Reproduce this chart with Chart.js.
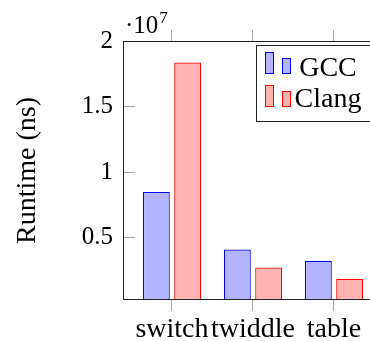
<!DOCTYPE html>
<html lang="en">
<head>
    <meta charset="UTF-8">
    <title>Runtime</title>
    <script src="https://cdn.jsdelivr.net/npm/chart.js"></script>
    <style>
        html, body {
            margin: 0;
            padding: 0;
            background: #fff;
            overflow: hidden;
        }
        #wrap {
            width: 400px;
            height: 341px;
        }
    </style>
</head>
<body>
    <div id="wrap"><canvas id="runtimeChart" width="400" height="341"></canvas></div>

    <script>
        // data
        const categories = ['switch', 'twiddle', 'table'];
        const seriesNames = ['GCC', 'Clang'];
        const gccRuntime = [8.46e6, 4.08e6, 3.21e6];
        const clangRuntime = [1.836e7, 2.70e6, 1.84e6];
        const yTickValues = [5e6, 1e7, 1.5e7, 2e7];
        const yMin = 2.2e5;
        const yMax = 2e7;

        const serif = '"Liberation Serif", "Times New Roman", serif';

        // extra pieces pgfplots draws: box, inward/outward ticks, exponent, legend
        const axisDecor = {
            id: 'axisDecor',
            afterDatasetsDraw(chart) {
                const { ctx, chartArea: a, scales: { x, y } } = chart;
                ctx.save();

                // tick marks
                ctx.strokeStyle = '#a8a8a8';
                ctx.lineWidth = 1;
                ctx.beginPath();
                x.ticks.forEach(t => {
                    const px = Math.round(x.getPixelForValue(t.value)) - 0.5;
                    ctx.moveTo(px, a.top - 11);
                    ctx.lineTo(px, a.top);
                    ctx.moveTo(px, a.bottom);
                    ctx.lineTo(px, a.bottom + 11);
                });
                y.ticks.forEach(t => {
                    const py = Math.round(y.getPixelForValue(t.value)) + 0.5;
                    ctx.moveTo(a.left, py);
                    ctx.lineTo(a.left + 11, py);
                });
                ctx.stroke();

                // axis box
                ctx.strokeStyle = '#222';
                ctx.strokeRect(Math.round(a.left) - 0.5, Math.round(a.top) + 0.5,
                    Math.round(a.right - a.left) + 1, Math.round(a.bottom - a.top) - 1);

                // exponent
                ctx.fillStyle = '#000';
                ctx.textBaseline = 'alphabetic';
                ctx.textAlign = 'left';
                ctx.font = '25px ' + serif;
                ctx.fillText('\u00b710', 125, 33);
                const w = ctx.measureText('\u00b710').width;
                ctx.font = '17px ' + serif;
                ctx.fillText('7', 125 + w + 1, 23);

                // legend
                const lx = 256.5, ly = 45.5, lr = 377.5, lb = 121.5;
                ctx.fillStyle = '#fff';
                ctx.fillRect(lx, ly, lr - lx, lb - ly);
                ctx.strokeStyle = '#222';
                ctx.strokeRect(lx, ly, lr - lx, lb - ly);
                const iconBottom = [73.5, 106.5];
                const textBase = [76, 106.5];
                chart.data.datasets.forEach((ds, i) => {
                    ctx.fillStyle = ds.backgroundColor;
                    ctx.strokeStyle = ds.borderColor;
                    const b = iconBottom[i];
                    ctx.fillRect(265.5, b - 21, 8, 21);
                    ctx.strokeRect(265.5, b - 21, 8, 21);
                    ctx.fillRect(282.5, b - 15, 8, 15);
                    ctx.strokeRect(282.5, b - 15, 8, 15);
                    ctx.fillStyle = '#000';
                    ctx.font = '28px ' + serif;
                    ctx.textAlign = 'center';
                    ctx.fillText(ds.label, 328, textBase[i]);
                });
                ctx.restore();
            }
        };

        const ctx = document.getElementById('runtimeChart').getContext('2d');
        const runtimeChart = new Chart(ctx, {
            type: 'bar',
            data: {
                datasets: [
                    {
                        label: seriesNames[0],
                        data: gccRuntime.map((v, i) => ({ x: i, y: v })),
                        backgroundColor: '#b3b3ff',
                        borderColor: '#0000ff',
                        borderWidth: 1.2,
                        borderSkipped: false,
                        base: yMin
                    },
                    {
                        label: seriesNames[1],
                        data: clangRuntime.map((v, i) => ({ x: i, y: v })),
                        backgroundColor: '#ffb3b3',
                        borderColor: '#ff0000',
                        borderWidth: 1.2,
                        borderSkipped: false,
                        base: yMin
                    }
                ]
            },
            options: {
                responsive: false,
                animation: false,
                categoryPercentage: 0.773,
                barPercentage: 0.86,
                layout: { padding: { left: 0, top: 41, right: 18, bottom: 0 } },
                plugins: {
                    legend: { display: false },
                    tooltip: { enabled: false }
                },
                scales: {
                    x: {
                        type: 'linear',
                        offset: false,
                        min: -0.5926,
                        max: 2.5926,
                        grid: { display: false, drawTicks: false, offset: false },
                        border: { display: false },
                        afterBuildTicks: s => { s.ticks = categories.map((c, i) => ({ value: i })); },
                        afterFit: s => { s.height = 41; },
                        ticks: {
                            padding: 13,
                            maxRotation: 0,
                            autoSkip: false,
                            color: '#000',
                            font: { family: serif, size: 28 },
                            callback: v => categories[v]
                        }
                    },
                    y: {
                        min: yMin,
                        max: yMax,
                        grid: { display: false, drawTicks: false },
                        border: { display: false },
                        afterBuildTicks: s => { s.ticks = yTickValues.map(v => ({ value: v })); },
                        afterFit: s => { s.width = 124; },
                        ticks: {
                            padding: 11,
                            color: '#000',
                            font: { family: serif, size: 25 },
                            callback: v => String(v / 1e7)
                        },
                        title: {
                            display: true,
                            text: 'Runtime (ns)',
                            color: '#000',
                            font: { family: serif, size: 28 },
                            padding: { top: 11, bottom: 0 }
                        }
                    }
                }
            },
            plugins: [axisDecor]
        });
    </script>
</body>
</html>
